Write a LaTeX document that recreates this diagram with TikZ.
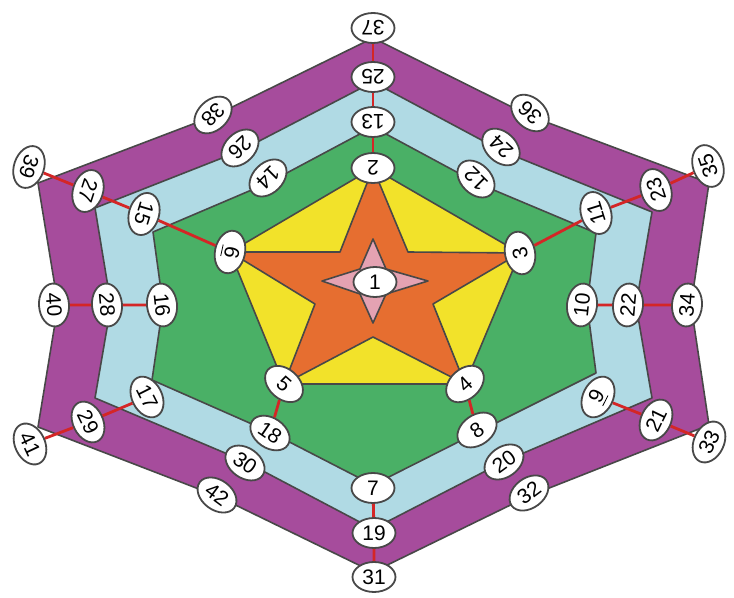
\documentclass[tikz,border=0pt]{standalone}
\usepackage{fontspec}
\setmainfont{Liberation Sans}
\usetikzlibrary{shapes.geometric}

\definecolor{bandpurple}{RGB}{166,76,156}
\definecolor{bandblue}{RGB}{176,218,228}
\definecolor{bandgreen}{RGB}{74,176,102}
\definecolor{pentyellow}{RGB}{242,226,42}
\definecolor{starorange}{RGB}{230,110,48}
\definecolor{starpink}{RGB}{228,162,178}
\definecolor{edge}{RGB}{72,72,72}
\definecolor{linkred}{RGB}{212,38,38}

\begin{document}
\begin{tikzpicture}[
  x=0.5pt, y=-0.5pt,
  font=\fontsize{10.5}{12}\selectfont,
  num/.style={ellipse, draw=edge, line width=0.9pt, fill=white, inner sep=0.5pt,
              minimum width=21.5pt, minimum height=15pt},
  band/.style={draw=edge, line width=0.8pt, line join=round},
  link/.style={draw=linkred, line width=1.4pt}]
  \useasboundingbox (0,0) rectangle (734,598);

  % coloured rings, outside in
  \filldraw[band, fill=bandpurple] (373,38) -- (530,116) -- (709,183) -- (691,305)
    -- (709,425) -- (529,496) -- (373,572) -- (217,496) -- (38,427) -- (58,305)
    -- (38,183) -- (214,116) -- cycle;
  \filldraw[band, fill=bandblue] (373,82) -- (502,151) -- (652,212) -- (636,305)
    -- (652,398) -- (505,461) -- (373,529) -- (244,461) -- (95,398) -- (111,305)
    -- (95,208) -- (240,151) -- cycle;
  \filldraw[band, fill=bandgreen] (373,127) -- (477,183) -- (596,233) -- (587,305)
    -- (596,373) -- (478,432) -- (373,485) -- (270,432) -- (152,380) -- (163,305)
    -- (153,232) -- (268,183) -- cycle;
  \filldraw[band, fill=pentyellow] (373,168) -- (520,253) -- (465,384) -- (284,384)
    -- (230,252) -- cycle;
  \filldraw[band, fill=starorange] (373,168) -- (408,252) -- (520,253) -- (433,304)
    -- (465,384) -- (373,337) -- (284,384) -- (315,304) -- (230,252) -- (340,252) -- cycle;
  \filldraw[band, fill=starpink] (373,239) -- (386,269) -- (428,281) -- (386,294)
    -- (373,323) -- (360,294) -- (322,281) -- (360,269) -- cycle;

  % numbered spots, text turned towards the centre
  \node[num] (n1) at (375,282) {1};
  \foreach \i/\x/\y/\lbl in {2/373/168/2, 3/520/253/3, 4/465/384/4, 5/284/384/5,
      6/230/252/\underline{6}, 7/373/488/7, 8/477/430/8, 9/598/397/\underline{9},
      10/582/305/10, 11/596/213/11, 12/476/179/12, 13/373/122/13, 14/268/178/14,
      15/144/214/15, 16/162/305/16, 17/147/397/17, 18/270/433/18, 19/374/533/19,
      20/504/462/20, 21/656/420/21, 22/628/305/22, 23/656/190/23, 24/501/147/24,
      25/373/77/25, 26/240/148/26, 27/88/191/27, 28/107/305/28, 29/88/422/29,
      30/245/463/30, 31/374/577/31, 32/529/493/32, 33/709/442/33, 34/687/305/34,
      35/708/166/35, 36/530/113/36, 37/373/28/37, 38/213/115/38, 39/29/167/39,
      40/54/305/40, 41/30/444/41, 42/217/495/42} {
    \pgfmathsetmacro\rot{atan2(283-\y,\x-373)+90}
    \node[num, rotate=\rot] (n\i) at (\x,\y) {\lbl};
  }

  % red spokes
  \foreach \a/\b in {37/25, 25/13, 13/2, 35/23, 23/11, 11/3, 34/22, 22/10,
      33/21, 21/9, 4/8, 31/19, 19/7, 5/18, 41/29, 29/17, 40/28, 28/16,
      39/27, 27/15, 15/6}
    \draw[link] (n\a) -- (n\b);
\end{tikzpicture}
\end{document}
